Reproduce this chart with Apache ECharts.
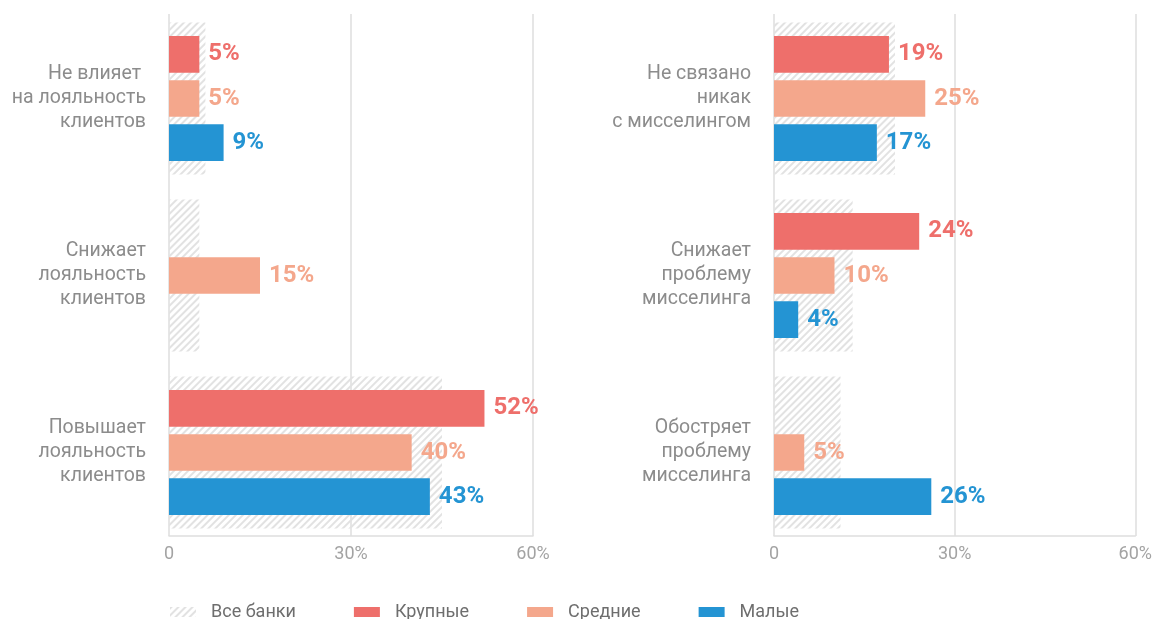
<!DOCTYPE html>
<html><head><meta charset="utf-8">
<script src="https://cdn.jsdelivr.net/npm/echarts@6/dist/echarts.min.js"></script>
<style>html,body{margin:0;padding:0;background:#fff}#c{width:1155px;height:619px}</style>
</head><body><div id="c"></div>
<script>
var leftCategories = ['Не влияет \nна лояльность\nклиентов', 'Снижает\nлояльность\nклиентов', 'Повышает\nлояльность\nклиентов'];
var rightCategories = ['Не связано\nникак\nс мисселингом', 'Снижает\nпроблему\nмисселинга', 'Обостряет\nпроблему\nмисселинга'];
var seriesNames = ['Все банки', 'Крупные', 'Средние', 'Малые'];
var leftAll = [6, 5, 45];
var leftLarge = [5, null, 52];
var leftMedium = [5, 15, 40];
var leftSmall = [9, null, 43];
var rightAll = [20, 13, 11];
var rightLarge = [19, 24, null];
var rightMedium = [25, 10, 5];
var rightSmall = [17, 4, 26];
var xTicks = [0, 30, 60];

var colors = {'Крупные': '#ee6f6b', 'Средние': '#f4a78c', 'Малые': '#2494d3'};
var FONT = 'Roboto, "Open Sans", sans-serif';
var hatch = {
  symbol: 'rect', symbolSize: 1, color: '#e2e2e2',
  dashArrayX: [1, 0], dashArrayY: [2, 3], rotation: -Math.PI / 4
};
var XMIN = xTicks[0], XMAX = xTicks[xTicks.length - 1];

function lineXAxis(gi) {
  return {
    gridIndex: gi, type: 'value', min: XMIN, max: XMAX, interval: 30,
    axisLine: {show: true, lineStyle: {color: '#dedede', width: 1.5}},
    axisTick: {show: false},
    splitLine: {show: true, lineStyle: {color: '#dedede', width: 1.5}},
    axisLabel: {color: '#a3a3a3', fontSize: 18, fontFamily: FONT, margin: 9,
      formatter: function (v) { return v === 0 ? '0' : v + '%'; }}
  };
}
function barXAxis(gi) {
  return {gridIndex: gi, type: 'value', min: XMIN, max: XMAX, interval: 30, show: false};
}
function hiddenY(gi, cats) {
  return {gridIndex: gi, type: 'category', data: cats, inverse: true, show: false};
}
function labelY(gi, cats) {
  return {
    gridIndex: gi, type: 'category', data: cats, inverse: true,
    axisLine: {show: false}, axisTick: {show: false}, splitLine: {show: false},
    axisLabel: {color: '#8c8c8c', fontSize: 19.5, lineHeight: 24, fontFamily: FONT, margin: 23, align: 'right'}
  };
}
function colored(name, data, xi, yi) {
  return {
    name: name, type: 'bar', xAxisIndex: xi, yAxisIndex: yi, data: data,
    barWidth: 36.7, barGap: '20%', z: 3,
    itemStyle: {color: colors[name]},
    label: {show: true, position: 'right', distance: 9, color: colors[name],
      fontSize: 24, fontWeight: 'bold', fontFamily: FONT, formatter: '{c}%'}
  };
}
function allBanks(data, xi, yi) {
  return {
    name: 'Все банки', type: 'bar', xAxisIndex: xi, yAxisIndex: yi, data: data,
    barWidth: 152, z: 1, itemStyle: {color: 'rgba(255,255,255,0)', decal: hatch}
  };
}

var chart = echarts.init(document.getElementById('c'), null, {renderer: 'canvas'});
chart.setOption({
  animation: false,
  backgroundColor: '#ffffff',
  grid: [
    {left: 169, top: 14, width: 364, height: 522},
    {left: 169, top: 10, width: 364, height: 531},
    {left: 774, top: 14, width: 363, height: 522},
    {left: 774, top: 10, width: 363, height: 531}
  ],
  xAxis: [lineXAxis(0), barXAxis(1), lineXAxis(2), barXAxis(3)],
  yAxis: [hiddenY(0, leftCategories), labelY(1, leftCategories), hiddenY(1, leftCategories),
          hiddenY(2, rightCategories), labelY(3, rightCategories), hiddenY(3, rightCategories)],
  legend: {
    data: seriesNames, left: 170, top: 603, padding: 0, itemWidth: 26, itemHeight: 10, itemGap: 58,
    icon: 'rect',
    textStyle: {color: '#6e6e6e', fontSize: 18, fontFamily: FONT, padding: [0, 0, 0, 10]}
  },
  series: [
    allBanks(leftAll, 1, 2),
    colored('Крупные', leftLarge, 1, 1),
    colored('Средние', leftMedium, 1, 1),
    colored('Малые', leftSmall, 1, 1),
    allBanks(rightAll, 3, 5),
    colored('Крупные', rightLarge, 3, 4),
    colored('Средние', rightMedium, 3, 4),
    colored('Малые', rightSmall, 3, 4)
  ]
});
</script></body></html>
